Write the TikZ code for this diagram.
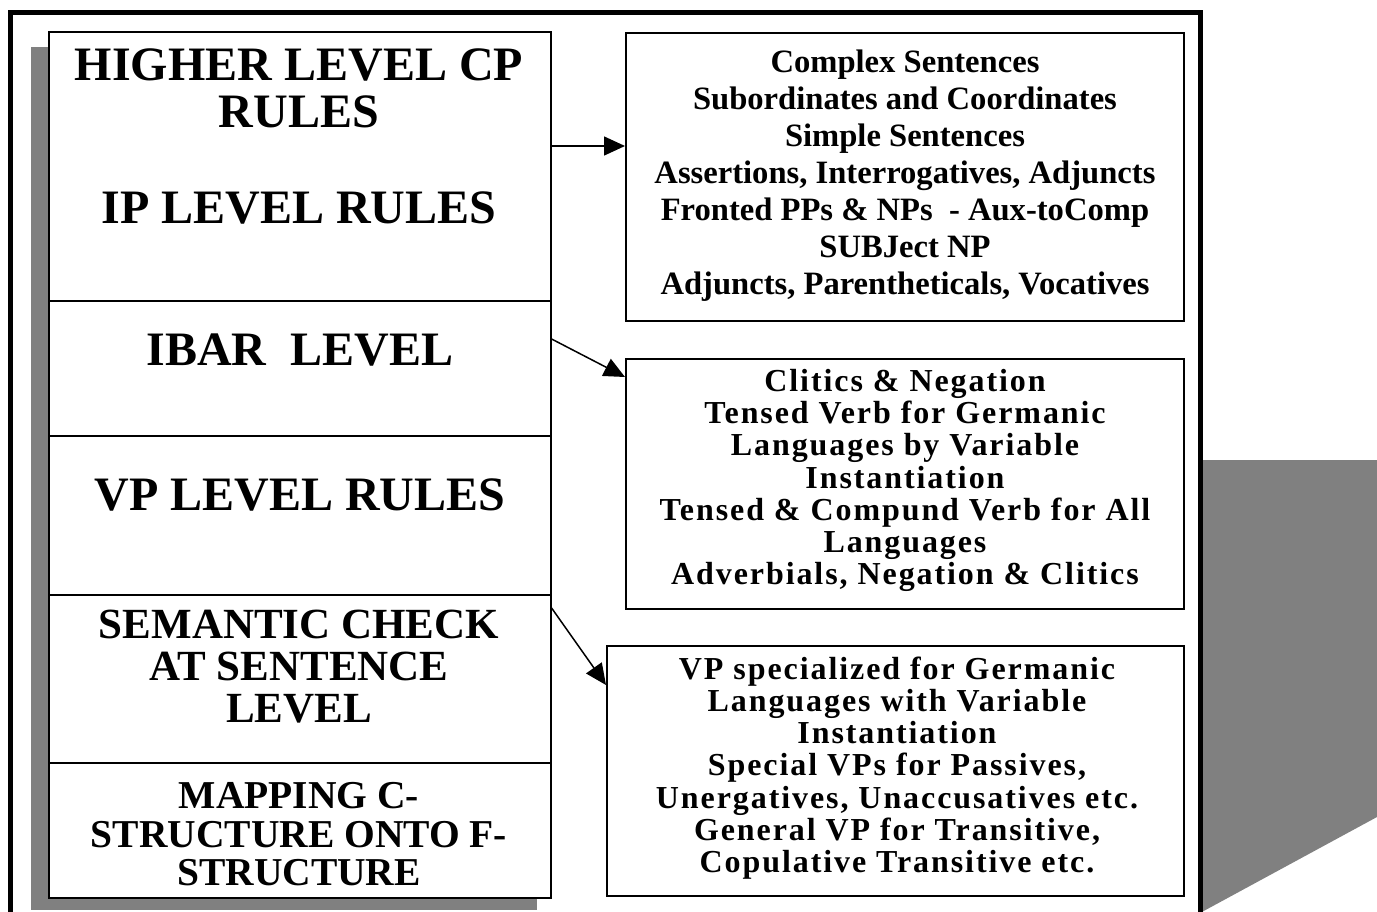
\documentclass[tikz,border=0pt]{standalone}
\usepackage{fontspec}
\setmainfont{Liberation Serif}
\newfontfamily\spacedfont[LetterSpace=6]{Liberation Serif}
\usetikzlibrary{arrows.meta}
\definecolor{shadowgray}{HTML}{808080}
\begin{document}
\begin{tikzpicture}[x=1pt,y=-1pt,
  sec/.style={draw, line width=1.6pt, fill=white, minimum width=502pt, anchor=north west, inner sep=0pt},
  rbox/.style={draw, line width=2pt, fill=white, anchor=north west, inner sep=0pt},
  big/.style={font=\bfseries\fontsize{48}{47}\selectfont, align=center, inner sep=0pt},
  mid/.style={font=\bfseries\fontsize{43}{42}\selectfont, align=center, inner sep=0pt},
  small/.style={font=\bfseries\fontsize{39.5}{38.5}\selectfont, align=center, inner sep=0pt},
  rtext/.style={font=\bfseries\fontsize{32.6}{37}\selectfont, align=center, inner sep=0pt},
  stext/.style={font=\spacedfont\bfseries\fontsize{32}{32.2}\selectfont, align=center, inner sep=0pt},
  arrow/.style={-{Triangle[length=21pt,width=19pt]}, line width=1.5pt}]
\useasboundingbox (0,0) rectangle (1377,911);
% shadows
\fill[shadowgray] (31,47) rectangle (537,910);
\fill[shadowgray] (1200,460) -- (1377,460) -- (1377,817) -- (1200,913) -- cycle;
% outer frame
\draw[line width=4.5pt] (10.5,915) -- (10.5,12.5) -- (1200.5,12.5) -- (1200.5,915);
% left column sections
\node[sec, minimum height=269pt] (s1) at (48,31) {};
\node[sec, minimum height=135pt] (s2) at (48,300) {};
\node[sec, minimum height=159pt] (s3) at (48,435) {};
\node[sec, minimum height=168pt] (s4) at (48,594) {};
\node[sec, minimum height=135pt] (s5) at (48,762) {};
% left texts
\node[big] (tcp) at (299,88.5) {HIGHER LEVEL CP\\RULES};
\node[big] (tip) at (299,208) {IP LEVEL RULES};
\node[big] (tibar) at (300,350) {IBAR~~LEVEL};
\node[big] (tvp) at (300,495) {VP LEVEL RULES};
\node[mid] (tsem) at (299,667) {SEMANTIC CHECK\\AT SENTENCE\\LEVEL};
\node[small] (tmap) at (299,834.5) {MAPPING C-\\STRUCTURE ONTO F-\\STRUCTURE};
% right boxes
\node[rbox, minimum width=558pt, minimum height=288pt] (b1) at (625,32) {};
\node[rbox, minimum width=558pt, minimum height=250pt] (b2) at (625,358) {};
\node[rbox, minimum width=577pt, minimum height=250pt] (b3) at (606,645) {};
\node[rtext] (t1) at ([yshift=1pt]b1.center)
  {Complex Sentences\\Subordinates and Coordinates\\Simple Sentences\\Assertions, Interrogatives, Adjuncts\\Fronted PPs \& NPs~ - Aux-toComp\\SUBJect NP\\Adjuncts, Parentheticals, Vocatives};
\node[stext] (t2) at ([yshift=3.5pt]b2.center)
  {Clitics \& Negation\\Tensed Verb for Germanic\\Languages by Variable\\Instantiation\\Tensed \& Compund Verb for All\\Languages\\Adverbials, Negation \& Clitics};
\node[stext] (t3) at ([xshift=1.5pt,yshift=3pt]b3.center)
  {VP specialized for Germanic\\Languages with Variable\\Instantiation\\Special VPs for Passives,\\Unergatives, Unaccusatives etc.\\General VP for Transitive,\\Copulative Transitive etc.};
% arrows
\coordinate (a1) at ([yshift=-115pt]s1.north east);
\coordinate (a2) at ([yshift=-39pt]s2.north east);
\coordinate (e2) at ([yshift=-19pt]b2.north west);
\coordinate (a3) at ([yshift=-14pt]s4.north east);
\coordinate (e3) at ([yshift=-40pt]b3.north west);
\draw[arrow] (a1) -- (a1 -| b1.west);
\draw[arrow] (a2) -- (e2);
\draw[arrow] (a3) -- (e3);
\end{tikzpicture}
\end{document}
